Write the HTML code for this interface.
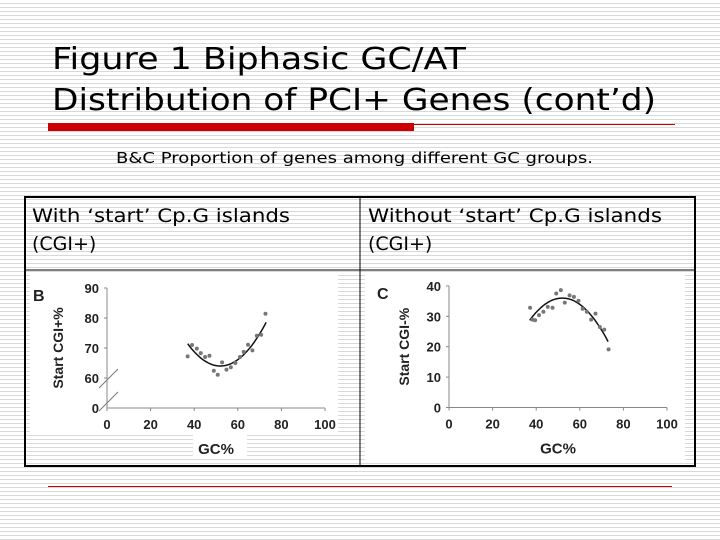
<!DOCTYPE html>
<html><head><meta charset="utf-8"><style>
html,body{margin:0;padding:0;width:720px;height:540px;overflow:hidden;background:#fff}
svg{display:block}
.t{font-family:"DejaVu Sans","Liberation Sans",sans-serif}
.a{font-family:"Liberation Sans",Arial,sans-serif;font-weight:bold;fill:#222}
</style></head><body>
<svg id="s" width="720" height="540" viewBox="0 0 720 540" xmlns="http://www.w3.org/2000/svg">
<defs><pattern id="st" width="4" height="4" patternUnits="userSpaceOnUse"><rect width="4" height="4" fill="#fff"/><rect y="3" width="4" height="1" fill="#d9d9d9"/></pattern></defs>
<rect width="720" height="540" fill="url(#st)"/>
<text class="t" x="52" y="69" font-size="30" textLength="414" lengthAdjust="spacingAndGlyphs">Figure 1 Biphasic GC/AT</text>
<text class="t" x="52" y="110" font-size="30" textLength="604" lengthAdjust="spacingAndGlyphs">Distribution of PCI+ Genes (cont’d)</text>
<rect x="48" y="123" width="366" height="8" fill="#cc0000"/>
<line x1="414" y1="124.5" x2="675" y2="124.5" stroke="#c00" stroke-width="1"/>
<text class="t" x="116" y="163" font-size="15" textLength="477" lengthAdjust="spacingAndGlyphs">B&amp;C Proportion of genes among different GC groups.</text>
<rect x="25" y="197" width="670" height="269" fill="none" stroke="#000" stroke-width="2"/>
<line x1="360" y1="197" x2="360" y2="466" stroke="#000" stroke-width="1"/>
<line x1="25" y1="270" x2="695" y2="270" stroke="#000" stroke-width="1"/>
<text class="t" x="32" y="222" font-size="19" textLength="258" lengthAdjust="spacingAndGlyphs">With ‘start’ Cp.G islands</text>
<text class="t" x="32" y="250" font-size="19">(CGI+)</text>
<text class="t" x="368" y="222" font-size="19" textLength="294" lengthAdjust="spacingAndGlyphs">Without ‘start’ Cp.G islands</text>
<text class="t" x="368" y="250" font-size="19">(CGI+)</text>
<rect x="30" y="275" width="308" height="160" fill="#fff"/>
<rect x="193" y="435" width="54" height="24" fill="#fff"/>
<rect x="365" y="275" width="320" height="188" fill="#fff"/>
<g id="gb"></g>
<g id="gc"></g>
<line x1="48" y1="486.5" x2="672" y2="486.5" stroke="#c00" stroke-width="1"/>
</svg>
<script>
const xTicks=[0,20,40,60,80,100];
const bTicks=[90,80,70,60];
const bGC=[37,39,41.2,43,45,47,49,50.8,52.8,54.8,56.8,58.9,61,62.7,64.7,66.7,68.7,70.7,72.7];
const bVal=[67.2,71,69.8,68.3,67,67.4,62.4,61.1,65.2,62.8,63.6,65,67,68.7,71.1,69.2,74.1,74.4,81.4];
const bFit=[0.033,52,64];
const cTicks=[40,30,20,10,0];
const cGC=[37.2,38.3,39.5,41.3,43.3,45.3,47.5,49.2,51.3,53.1,55.3,57.3,59.4,61.3,63.2,65.2,67.2,69.2,71.2,73.2];
const cVal=[32.8,28.9,28.7,30.4,31.5,33.1,32.8,37.5,38.6,34.5,36.9,36.4,35.1,32.5,31.5,28.9,30.9,26.5,25.6,19.1];
const cFit=[-0.0325,52,36];
const NS='http://www.w3.org/2000/svg';
function mk(p,t,a,txt){const e=document.createElementNS(NS,t);for(const k in a)e.setAttribute(k,a[k]);if(txt!==undefined)e.textContent=txt;p.appendChild(e);return e;}
function chart(g,o){
 const X=v=>o.x0+(o.x1-o.x0)*v/100;
 const Y=o.Y;
 let e=mk(g,'line',{x1:o.axStart,y1:o.yb,x2:X(100),y2:o.yb,stroke:'#888','stroke-width':1});
 
 
 e=mk(g,'line',{x1:o.x0,y1:o.yb,x2:o.x0,y2:Y(o.yTicks[0]),stroke:'#888','stroke-width':1});
 
 
 xTicks.forEach(t=>{
  mk(g,'line',{x1:X(t),y1:o.yb,x2:X(t),y2:o.yb+3,stroke:'#888'});
  e=mk(g,'text',{x:X(t),y:o.yb+21,'font-size':13,'text-anchor':'middle',class:'a'},t);
  
  
 });
 o.yTicks.forEach(t=>{
  mk(g,'line',{x1:o.x0-3,y1:Y(t),x2:o.x0,y2:Y(t),stroke:'#888'});
  e=mk(g,'text',{x:o.x0-8,y:Y(t)+5,'font-size':13,'text-anchor':'end',class:'a'},t);
  
  
 });
 if(o.zero){e=mk(g,'text',{x:o.x0-8,y:o.yb+5,'font-size':13,'text-anchor':'end',class:'a'},'0');
  
  }
 e=mk(g,'text',{x:(X(0)+X(100))/2,y:o.yb+46,'font-size':15,'text-anchor':'middle',class:'a'},'GC%');
 
 
 const my=(Y(o.yTicks[0])+o.yb)/2;
 e=mk(g,'text',{x:o.ytx,y:my,'font-size':14,'text-anchor':'middle',class:'a',transform:`rotate(-90 ${o.ytx} ${my})`},o.ytitle);
 
 
 e=mk(g,'text',{x:o.lx,y:Y(o.yTicks[0])+13,'font-size':16,class:'a'},o.letter);
 
 
 let d='';for(let v=37;v<=73;v+=0.5){const y=o.fit[0]*(v-o.fit[1])**2+o.fit[2];d+=(d?'L':'M')+X(v).toFixed(1)+','+Y(y).toFixed(1);}
 e=mk(g,'path',{d:d,fill:'none',stroke:'#111','stroke-width':1.5});
 
 
 o.gc.forEach((v,i)=>{
  e=mk(g,'circle',{cx:X(v),cy:Y(o.val[i]),r:2,fill:'#777'});
  
  
 });
}
const gb=document.getElementById('gb');
chart(gb,{x0:107,x1:325,yb:408,axStart:107,yTicks:bTicks,zero:true,Y:v=>378-(v-60)*3,gc:bGC,val:bVal,fit:bFit,ytitle:'Start CGI+%',ytx:63,letter:'B',lx:33});
[[99,388,118,369],[99,411,118,392]].forEach(b=>{const e=mk(gb,'line',{x1:b[0],y1:b[1],x2:b[2],y2:b[3],stroke:'#777'});
 
 });
const gc=document.getElementById('gc');
chart(gc,{x0:449,x1:667,yb:407.5,axStart:449,yTicks:cTicks,zero:false,Y:v=>407.5-v*3.04,gc:cGC,val:cVal,fit:cFit,ytitle:'Start CGI-%',ytx:409,letter:'C',lx:377});
</script>
</body></html>
